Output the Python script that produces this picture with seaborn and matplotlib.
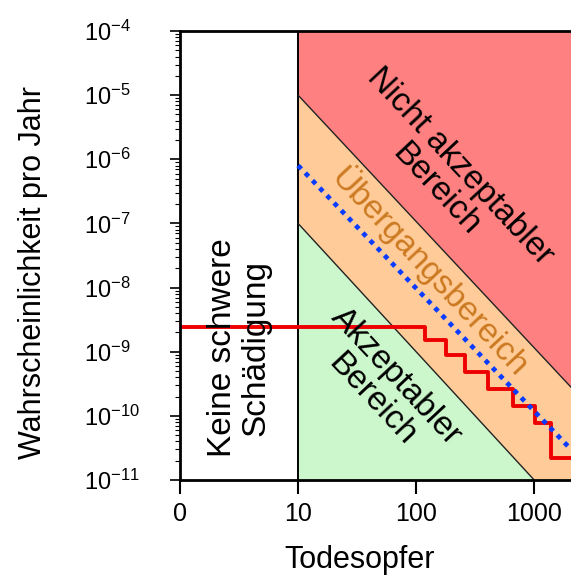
import matplotlib
matplotlib.use("Agg")
import matplotlib.pyplot as plt
import seaborn as sns
import pandas as pd
from matplotlib.ticker import FixedLocator, NullLocator, LogLocator

# ------------------------------ data ---------------------------------------
X_MIN, X_MAX = 1, 2050
Y_MIN, Y_MAX = 1e-11, 1e-4

X_TICKS = [1, 10, 100, 1000]
X_TICK_LABELS = ["0", "10", "100", "1000"]
Y_TICKS = [1e-4, 1e-5, 1e-6, 1e-7, 1e-8, 1e-9, 1e-10, 1e-11]
Y_TICK_LABELS = [r"10$^{-4}$", r"10$^{-5}$", r"10$^{-6}$", r"10$^{-7}$",
                 r"10$^{-8}$", r"10$^{-9}$", r"10$^{-10}$", r"10$^{-11}$"]

# border between "no serious damage" and the risk regions
BORDER_X = 10
# upper boundary (not acceptable / transition)
UPPER_X = [10, 2050]
UPPER_Y = [1e-5, 2.8e-10]
# lower boundary (transition / acceptable)
LOWER_X = [10, 1000]
LOWER_Y = [1e-7, 1e-11]
# blue dotted line
BLUE_X = [10, 2050]
BLUE_Y = [8e-7, 3e-11]
# red step curve
STEP_X = [1, 119, 180, 260, 404, 664, 1018, 1393, 2050]
STEP_Y = [2.45e-9, 1.5e-9, 9.0e-10, 4.9e-10, 2.6e-10, 1.42e-10, 7.7e-11,
          2.2e-11, 2.2e-11]

RED_FILL = "#ff8080"
ORANGE_FILL = "#ffcc99"
GREEN_FILL = "#ccf7cc"

# ------------------------------ plot ---------------------------------------
sns.set_theme(style="ticks")
plt.rcParams["font.family"] = ["Liberation Sans", "DejaVu Sans"]
plt.rcParams["mathtext.fontset"] = "custom"
plt.rcParams["mathtext.rm"] = "Liberation Sans"
plt.rcParams["mathtext.it"] = "Liberation Sans:italic"
plt.rcParams["mathtext.bf"] = "Liberation Sans:bold"
plt.rcParams["text.color"] = "black"
plt.rcParams["axes.labelcolor"] = "black"
plt.rcParams["xtick.color"] = "black"
plt.rcParams["ytick.color"] = "black"

fig = plt.figure(figsize=(5.71, 5.79), dpi=100)
ax = fig.add_axes([180 / 571, 99 / 579, 391 / 571, 449 / 579])
ax.set_xscale("log")
ax.set_yscale("log")
ax.set_xlim(X_MIN, X_MAX)
ax.set_ylim(Y_MIN, Y_MAX)

# regions
ax.fill([BORDER_X, BORDER_X, UPPER_X[1], UPPER_X[1]],
        [Y_MAX, UPPER_Y[0], UPPER_Y[1], Y_MAX],
        color=RED_FILL, lw=0, zorder=0)
ax.fill([UPPER_X[0], UPPER_X[1], UPPER_X[1], LOWER_X[1], LOWER_X[0]],
        [UPPER_Y[0], UPPER_Y[1], Y_MIN, LOWER_Y[1], LOWER_Y[0]],
        color=ORANGE_FILL, lw=0, zorder=0)
ax.fill([LOWER_X[0], LOWER_X[1], BORDER_X],
        [LOWER_Y[0], LOWER_Y[1], Y_MIN],
        color=GREEN_FILL, lw=0, zorder=0)

# boundaries
ax.axvline(BORDER_X, color="black", lw=1.4, zorder=2)
ax.plot(UPPER_X, UPPER_Y, color="#222222", lw=1.0, zorder=2)
ax.plot(LOWER_X, LOWER_Y, color="#222222", lw=1.0, zorder=2)

# curves
step_df = pd.DataFrame({"x": STEP_X, "y": STEP_Y})
sns.lineplot(data=step_df, x="x", y="y", ax=ax, estimator=None,
             drawstyle="steps-post", color="#ee0000", lw=2.8, zorder=3)
blue_df = pd.DataFrame({"x": BLUE_X, "y": BLUE_Y})
sns.lineplot(data=blue_df, x="x", y="y", ax=ax, estimator=None,
             color="#0a3cff", lw=3.4, linestyle=(0, (1, 1.2)), zorder=4)

# region labels
txt = dict(ha="center", va="center", rotation_mode="anchor",
           multialignment="center", linespacing=1.1, zorder=5)
ax.text(3.2, 1.15e-9, "Keine schwere\nSchädigung", rotation=90,
        fontsize=24, color="black", **txt)
ax.text(187, 5.1e-7, "Nicht akzeptabler\nBereich", rotation=-47,
        fontsize=24, color="black", **txt)
ax.text(131, 1.75e-8, "Übergangsbereich", rotation=-47,
        fontsize=24, color="#cc7a22", **txt)
ax.text(53.6, 2.7e-10, "Akzeptabler\nBereich", rotation=-47,
        fontsize=24, color="black", **txt)

# axes
ax.xaxis.set_major_locator(FixedLocator(X_TICKS))
ax.xaxis.set_minor_locator(NullLocator())
ax.set_xticklabels(X_TICK_LABELS)
ax.yaxis.set_major_locator(FixedLocator(Y_TICKS))
ax.yaxis.set_minor_locator(LogLocator(base=10, subs=range(2, 10), numticks=20))
ax.set_yticklabels(Y_TICK_LABELS)

ax.tick_params(axis="x", which="major", direction="out", length=10, width=1.5,
               labelsize=18, pad=6, color="black")
ax.tick_params(axis="y", which="major", direction="out", length=7, width=1.2,
               labelsize=17, pad=62, color="black")
ax.tick_params(axis="y", which="minor", direction="out", length=3.5, width=0.8,
               color="black")
for lab in ax.get_yticklabels():
    lab.set_horizontalalignment("left")

for side in ["left", "bottom", "top"]:
    ax.spines[side].set_color("black")
    ax.spines[side].set_linewidth(2)
    ax.spines[side].set_zorder(6)
ax.spines["right"].set_visible(False)

ax.set_xlabel("Todesopfer", fontsize=22, va="center")
ax.xaxis.set_label_coords(0.46, -0.178)
ax.set_ylabel("Wahrscheinlichkeit pro Jahr", fontsize=22, va="center")
ax.yaxis.set_label_coords(-0.376, 0.463)

fig.savefig("out.png", dpi=100, facecolor="white")
